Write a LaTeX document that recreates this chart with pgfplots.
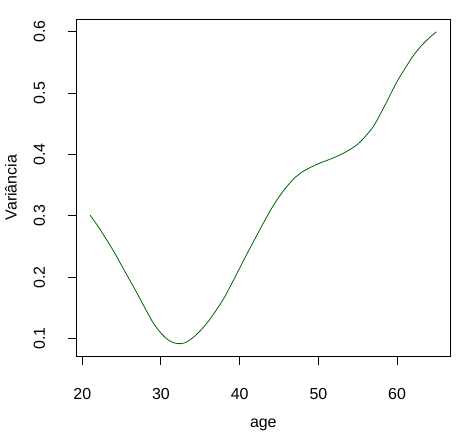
\documentclass[border=0pt]{standalone}
\usepackage{pgfplots}
\pgfplotsset{compat=1.18}
\usepackage{fontspec}
\setmainfont{Liberation Sans}
\begin{document}
\begin{tikzpicture}
\useasboundingbox (-76.3bp,-77bp) rectangle (393.7bp,356bp);
\begin{axis}[
  scale only axis,
  width=374bp, height=336.7bp,
  xmin=19.24, xmax=66.76,
  ymin=0.0717, ymax=0.6203,
  xtick={20,30,40,50,60},
  ytick={0.1,0.2,0.3,0.4,0.5,0.6},
  yticklabels={0.1,0.2,0.3,0.4,0.5,0.6},
  xticklabels={20,30,40,50,60},
  tick align=outside,
  major tick length=8.5bp,
  tick style={black, line width=1bp},
  axis line style={black, line width=1bp},
  xtick pos=bottom, ytick pos=left,
  font=\fontsize{16}{19}\selectfont,
  xticklabel style={anchor=base, yshift=-34.7bp},
  yticklabel style={xshift=-23bp, rotate=90, anchor=base},
  xlabel={age},
  ylabel={Variância},
  xlabel style={at={(axis description cs:0.5,-0.2138)}, anchor=base},
  ylabel style={at={(axis description cs:-0.1594,0.5)}, anchor=base, rotate=0},
]
\addplot[color={rgb,255:red,0;green,100;blue,0}, line width=0.8bp, smooth] coordinates {
(21,0.301) (22,0.283) (23,0.263) (24,0.242) (25,0.219) (26,0.196) (27,0.173) (28,0.149) (29,0.126) (30,0.109)
(31,0.097) (32,0.092) (33,0.093) (34,0.101) (35,0.113) (36,0.128) (37,0.146) (38,0.166) (39,0.190) (40,0.215)
(41,0.240) (42,0.264) (43,0.288) (44,0.311) (45,0.331) (46,0.348) (47,0.362) (48,0.372) (49,0.379) (50,0.385)
(51,0.390) (52,0.395) (53,0.401) (54,0.408) (55,0.417) (56,0.430) (57,0.446) (58,0.469) (59,0.494) (60,0.519)
(61,0.540) (62,0.560) (63,0.576) (64,0.589) (65,0.600)
};
\end{axis}
\end{tikzpicture}
\end{document}
